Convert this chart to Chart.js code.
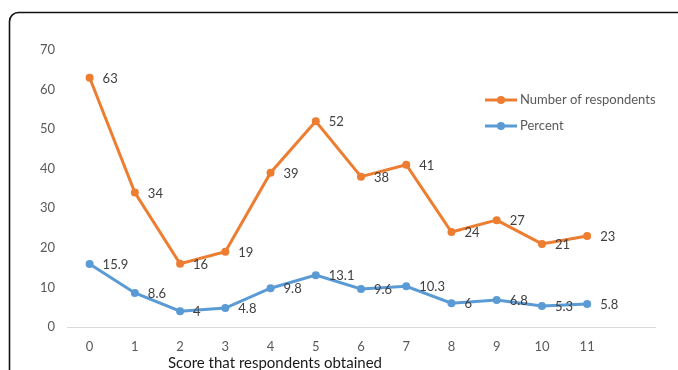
<!DOCTYPE html>
<html>
<head>
<meta charset="utf-8">
<script src="https://cdn.jsdelivr.net/npm/chart.js@4/dist/chart.umd.min.js"></script>
<style>
  html, body { margin: 0; padding: 0; background: #fff; }
  #wrap { width: 678px; height: 370px; position: relative; }
</style>
</head>
<body>
<div id="wrap"><canvas id="c" width="678" height="370"></canvas></div>
<script>
// Scores 0..11 and the respondents reaching each score
const scores = ['0', '1', '2', '3', '4', '5', '6', '7', '8', '9', '10', '11'];
const respondents = [63, 34, 16, 19, 39, 52, 38, 41, 24, 27, 21, 23];
const percent = [15.9, 8.6, 4, 4.8, 9.8, 13.1, 9.6, 10.3, 6, 6.8, 5.3, 5.8];
const yTicks = [0, 10, 20, 30, 40, 50, 60, 70];

const FONT = 'Lato, "Open Sans", sans-serif';
const ORANGE = '#ED7D31';
const BLUE = '#5B9BD5';

// one spare slot on the right so the axis runs on past the last score
const labels = scores.concat(['']);

// rounded frame around the figure
const framePlugin = {
  id: 'frame',
  beforeDraw(chart) {
    const ctx = chart.ctx;
    ctx.save();
    ctx.fillStyle = '#fff';
    ctx.fillRect(0, 0, chart.width, chart.height);
    ctx.strokeStyle = '#111';
    ctx.lineWidth = 1.6;
    const x = 9.5, y = 12.5, r = 9;
    ctx.beginPath();
    ctx.moveTo(x, chart.height + 5);
    ctx.lineTo(x, y + r);
    ctx.arcTo(x, y, x + r, y, r);
    ctx.lineTo(chart.width + 5, y);
    ctx.stroke();
    ctx.restore();
  }
};

// value labels to the right of each point, legend and axis title
const labelPlugin = {
  id: 'valueLabels',
  afterDatasetsDraw(chart) {
    const ctx = chart.ctx;
    ctx.save();
    ctx.font = '13px ' + FONT;
    ctx.fillStyle = '#404040';
    ctx.textAlign = 'left';
    ctx.textBaseline = 'middle';
    chart.data.datasets.forEach((ds, i) => {
      const meta = chart.getDatasetMeta(i);
      meta.data.forEach((pt, j) => {
        const v = ds.data[j];
        if (v === null || v === undefined) return;
        ctx.fillText(String(v), pt.x + 13, pt.y + 1);
      });
    });

    // legend
    ctx.font = '13px ' + FONT;
    const lx = 485, ly = [100, 126];
    chart.data.datasets.forEach((ds, i) => {
      const y = ly[i];
      ctx.strokeStyle = ds.borderColor;
      ctx.lineWidth = 3;
      ctx.beginPath();
      ctx.moveTo(lx, y);
      ctx.lineTo(lx + 32, y);
      ctx.stroke();
      ctx.fillStyle = ds.borderColor;
      ctx.beginPath();
      ctx.arc(lx + 16, y, 4, 0, Math.PI * 2);
      ctx.fill();
      ctx.fillStyle = '#595959';
      ctx.fillText(ds.label, lx + 35, y);
    });

    // x-axis title
    ctx.font = '15px ' + FONT;
    ctx.fillStyle = '#1a1a1a';
    ctx.textAlign = 'center';
    ctx.fillText('Score that respondents obtained', 275, 363);
    ctx.restore();
  }
};

new Chart(document.getElementById('c'), {
  type: 'line',
  data: {
    labels: labels,
    datasets: [
      {
        label: 'Number of respondents',
        data: respondents,
        borderColor: ORANGE,
        backgroundColor: ORANGE,
        borderWidth: 3,
        pointRadius: 4,
        pointBackgroundColor: ORANGE,
        pointBorderWidth: 0,
        tension: 0
      },
      {
        label: 'Percent',
        data: percent,
        borderColor: BLUE,
        backgroundColor: BLUE,
        borderWidth: 3,
        pointRadius: 4,
        pointBackgroundColor: BLUE,
        pointBorderWidth: 0,
        tension: 0
      }
    ]
  },
  options: {
    responsive: false,
    animation: false,
    layout: { padding: { top: 50, right: 23, bottom: 0, left: 0 } },
    plugins: {
      legend: { display: false },
      tooltip: { enabled: false }
    },
    scales: {
      x: {
        type: 'category',
        offset: true,
        grid: { display: false, drawTicks: false },
        border: { display: true, color: '#d9d9d9', width: 1 },
        ticks: {
          color: '#595959',
          font: { family: FONT, size: 13 },
          padding: 12,
          maxRotation: 0,
          autoSkip: false
        },
        afterFit(scale) { scale.height = 43; }
      },
      y: {
        min: 0,
        max: 70,
        grid: { display: false, drawTicks: false },
        border: { display: false },
        afterBuildTicks(scale) { scale.ticks = yTicks.map(v => ({ value: v })); },
        ticks: {
          color: '#595959',
          font: { family: FONT, size: 13 },
          padding: 12
        },
        afterFit(scale) { scale.width = 67; }
      }
    }
  },
  plugins: [framePlugin, labelPlugin]
});
</script>
</body>
</html>
